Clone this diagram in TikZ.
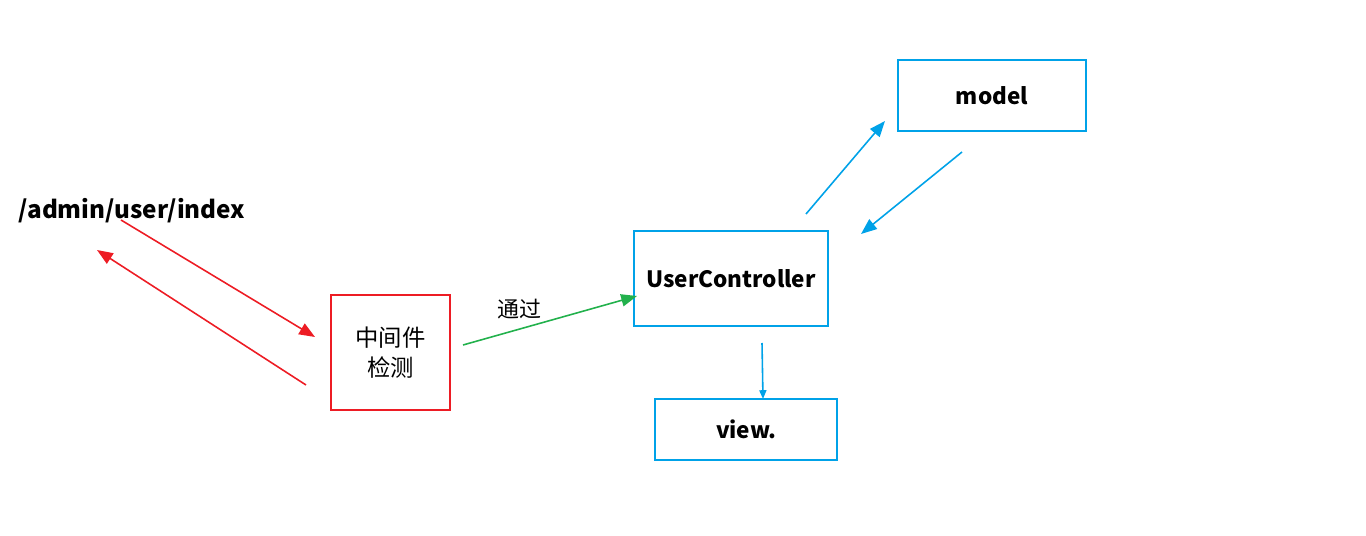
\documentclass[tikz,border=0pt]{standalone}
\usepackage{fontspec}
\setmainfont{Noto Sans CJK SC}
\usetikzlibrary{arrows.meta}

\definecolor{boxred}{RGB}{237,28,36}
\definecolor{boxblue}{RGB}{0,162,232}
\definecolor{passgreen}{RGB}{34,177,76}

\begin{document}
\begin{tikzpicture}[
        x=0.02cm, y=-0.02cm,
        box/.style={draw, line width=1pt, inner sep=0pt, font=\fontsize{12.8}{15}\selectfont\bfseries},
        flow/.style={line width=0.9pt, -{Triangle[length=9pt,width=7pt]}}
    ]
    \useasboundingbox (0,0) rectangle (1366,536);

    % Request path and middleware
    \node[font=\fontsize{13.8}{16}\selectfont\bfseries] (url) at (132,211) {/admin/user/index};
    \node[box, boxred, text=black, font=\fontsize{13.3}{17}\selectfont, align=center,
          minimum width=2.38cm, minimum height=2.3cm] (mw) at (390.5,352.5) {中间件\\检测};

    % Controller, model and view
    \node[box, boxblue, text=black, minimum width=3.88cm, minimum height=1.9cm] (ctrl) at (731,278.5) {UserController};
    \node[box, boxblue, text=black, minimum width=3.76cm, minimum height=1.42cm] (model) at (992,95.5) {model};
    \node[box, boxblue, text=black, minimum width=3.64cm, minimum height=1.22cm] (view) at (746,429.5) {view.};

    % Free arrow ends
    \coordinate (reqA) at (121,220);
    \coordinate (reqB) at (315,337);
    \coordinate (resA) at (306,385);
    \coordinate (resB) at (97,250);
    \coordinate (passA) at (463,345);
    \coordinate (passB) at (637,296);
    \coordinate (askA) at (806,214);
    \coordinate (askB) at (885,121);
    \coordinate (backA) at (962,152);
    \coordinate (backB) at (861,234);
    \coordinate (showA) at (762,343);
    \coordinate (showB) at (763,399);

    % Arrows
    \draw[flow, boxred] (reqA) -- (reqB);
    \draw[flow, boxred] (resA) -- (resB);
    \draw[flow, passgreen] (passA) -- (passB);
    \node[font=\fontsize{12.5}{15}\selectfont] (pass) at (519,309) {通过};
    \draw[flow, boxblue] (askA) -- (askB);
    \draw[flow, boxblue] (backA) -- (backB);
    \draw[flow, boxblue, -{Triangle[length=5pt,width=4pt]}] (showA) -- (showB);

\end{tikzpicture}
\end{document}
